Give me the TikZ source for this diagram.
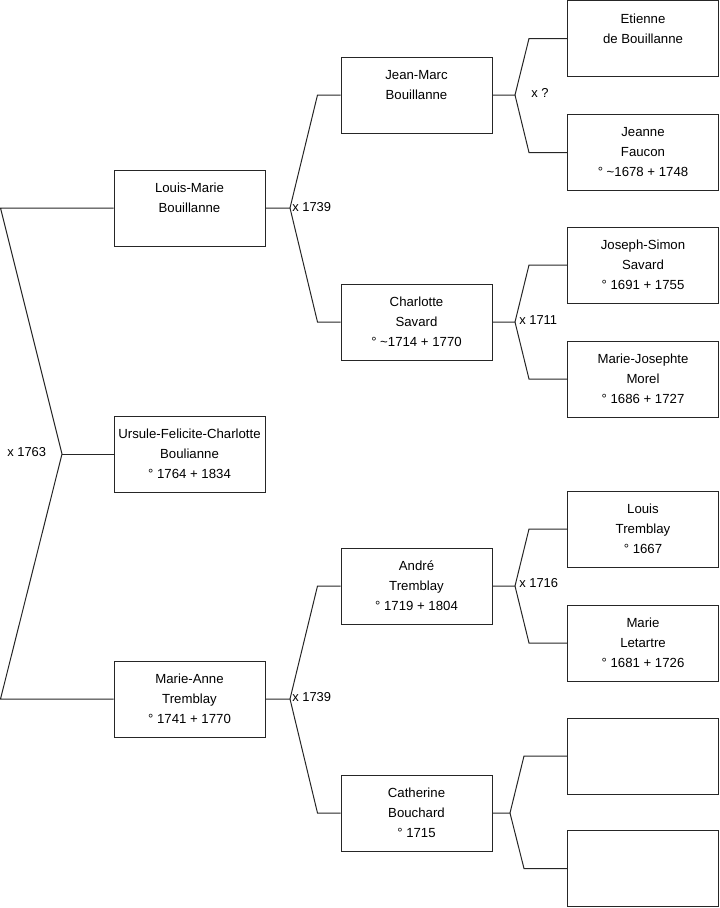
\documentclass[tikz,border=0pt]{standalone}
\usepackage{fontspec}
\setmainfont{Liberation Sans}
\usetikzlibrary{positioning}
\tikzset{
  persona/.style={
    rectangle, draw=black!85, line width=0.75pt, fill=white,
    minimum width=113.25pt, minimum height=57pt, inner sep=2pt,
    align=center, font=\fontsize{9.9}{15}\selectfont
  },
  enlace/.style={draw=black!85, line width=0.75pt},
  union/.style={font=\fontsize{9.7}{11}\selectfont, inner sep=0pt, anchor=west}
}

\begin{document}
\begin{tikzpicture}[x=0.75pt, y=-0.75pt, node distance=27.75pt and 57pt]
  \useasboundingbox (0,0) rectangle (719,908);

  % generacion 1
  \node[persona] (louismarie) at (189.5,208) {Louis-Marie\\Bouillanne\\\mbox{}};
  \node[persona] (ursule) at (189.5,454) {Ursule-Felicite-Charlotte\\Boulianne\\° 1764 + 1834};
  \node[persona] (marieanne) at (189.5,699) {Marie-Anne\\Tremblay\\° 1741 + 1770};

  % generacion 2
  \node[persona] (jeanmarc) at (416.5,95) {Jean-Marc\\Bouillanne\\\mbox{}};
  \node[persona] (charlotte) at (416.5,322) {Charlotte\\Savard\\° \textasciitilde 1714 + 1770};
  \node[persona] (andre) at (416.5,586) {André\\Tremblay\\° 1719 + 1804};
  \node[persona] (catherine) at (416.5,813) {Catherine\\Bouchard\\° 1715};

  % generacion 3
  \node[persona] (etienne) at (643,38.5) {Etienne\\de Bouillanne\\\mbox{}};
  \node[persona, below=of etienne] (jeanne) {Jeanne\\Faucon\\° \textasciitilde 1678 + 1748};
  \node[persona] (josephsimon) at (643,265) {Joseph-Simon\\Savard\\° 1691 + 1755};
  \node[persona, below=of josephsimon] (mariejosephte) {Marie-Josephte\\Morel\\° 1686 + 1727};
  \node[persona] (louis) at (643,529) {Louis\\Tremblay\\° 1667};
  \node[persona, below=of louis] (marie) {Marie\\Letartre\\° 1681 + 1726};
  \node[persona] (vacioa) at (643,756) {};
  \node[persona] (vaciob) at (643,868.5) {};

  % union 1763
  \coordinate (m1763) at (62,454);
  \coordinate (m1763a) at (0.5,208);
  \coordinate (m1763b) at (0.5,699);
  \draw[enlace] (louismarie.west) -- (m1763a) -- (m1763) -- (m1763b) -- (marieanne.west);
  \draw[enlace] (m1763) -- (ursule.west);
  \node[union] at (7,452) {x 1763};

  % union 1739 (Bouillanne)
  \coordinate (m1739a) at (290,208);
  \draw[enlace] (louismarie.east) -- (m1739a) -- ([xshift=-17.25pt]jeanmarc.west) -- (jeanmarc.west);
  \draw[enlace] (m1739a) -- ([xshift=-17.25pt]charlotte.west) -- (charlotte.west);
  \node[union] at (292,207) {x 1739};

  % union 1739 (Tremblay)
  \coordinate (m1739b) at (290,699);
  \draw[enlace] (marieanne.east) -- (m1739b) -- ([xshift=-17.25pt]andre.west) -- (andre.west);
  \draw[enlace] (m1739b) -- ([xshift=-17.25pt]catherine.west) -- (catherine.west);
  \node[union] at (292,697) {x 1739};

  % union x ?
  \coordinate (mjm) at (515,95);
  \draw[enlace] (jeanmarc.east) -- (mjm) -- ([xshift=-28.5pt]etienne.west) -- (etienne.west);
  \draw[enlace] (mjm) -- ([xshift=-28.5pt]jeanne.west) -- (jeanne.west);
  \node[union] at (531,93) {x ?};

  % union 1711
  \coordinate (m1711) at (515,322);
  \draw[enlace] (charlotte.east) -- (m1711) -- ([xshift=-28.5pt]josephsimon.west) -- (josephsimon.west);
  \draw[enlace] (m1711) -- ([xshift=-28.5pt]mariejosephte.west) -- (mariejosephte.west);
  \node[union] at (519,320) {x 1711};

  % union 1716
  \coordinate (m1716) at (515,586);
  \draw[enlace] (andre.east) -- (m1716) -- ([xshift=-28.5pt]louis.west) -- (louis.west);
  \draw[enlace] (m1716) -- ([xshift=-28.5pt]marie.west) -- (marie.west);
  \node[union] at (519,583) {x 1716};

  % Bouchard
  \coordinate (mcb) at (510,813);
  \draw[enlace] (catherine.east) -- (mcb) -- ([xshift=-32.25pt]vacioa.west) -- (vacioa.west);
  \draw[enlace] (mcb) -- ([xshift=-32.25pt]vaciob.west) -- (vaciob.west);
\end{tikzpicture}
\end{document}
